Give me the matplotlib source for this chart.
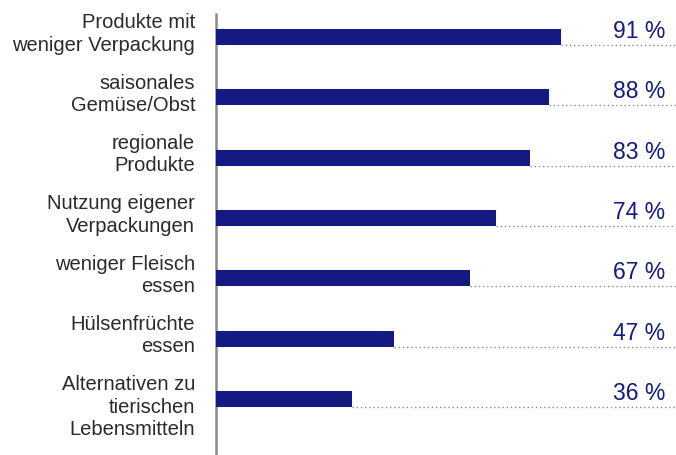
import matplotlib.pyplot as plt

categories = [
    "Produkte mit\nweniger Verpackung",
    "saisonales\nGemüse/Obst",
    "regionale\nProdukte",
    "Nutzung eigener\nVerpackungen",
    "weniger Fleisch\nessen",
    "Hülsenfrüchte\nessen",
    "Alternativen zu\ntierischen\nLebensmitteln",
]
values = [91, 88, 83, 74, 67, 47, 36]
value_labels = ["91 %", "88 %", "83 %", "74 %", "67 %", "47 %", "36 %"]

plt.rcParams['font.family'] = ['Liberation Sans', 'DejaVu Sans']

fig = plt.figure(figsize=(6.76, 4.55), dpi=100)
ax = fig.add_axes([216/676, 0, 1 - 216/676, 1 - 14/455])

bar_color = "#141a82"
h = 0.265
ypos = list(range(len(values)))
ax.barh(ypos, values, height=h, color=bar_color, zorder=3)

xmax = 121.4
ax.set_xlim(0, xmax)
ax.set_ylim(6.928, -0.381)

for y, v, lab, cat in zip(ypos, values, value_labels, categories):
    ax.hlines(y + h/2, v, xmax, colors="#888888", linestyles=(0, (1, 2)), linewidth=1.0, zorder=2)
    ax.annotate(lab, xy=(1, y + h/2), xycoords=('axes fraction', 'data'),
                xytext=(-8, 1.5), textcoords='offset points',
                ha='right', va='bottom', fontsize=16.5, color=bar_color)
    ax.annotate(cat, xy=(0, y), xycoords=('axes fraction', 'data'),
                xytext=(-15, 17), textcoords='offset points',
                ha='right', va='top', fontsize=14.5, color="#2a2a2a",
                multialignment='right', linespacing=1.22)

for s in ['top', 'right', 'bottom']:
    ax.spines[s].set_visible(False)
ax.spines['left'].set_color("#8a8a8a")
ax.spines['left'].set_linewidth(1.8)
ax.set_xticks([])
ax.set_yticks([])

fig.savefig("out.png", dpi=100)
